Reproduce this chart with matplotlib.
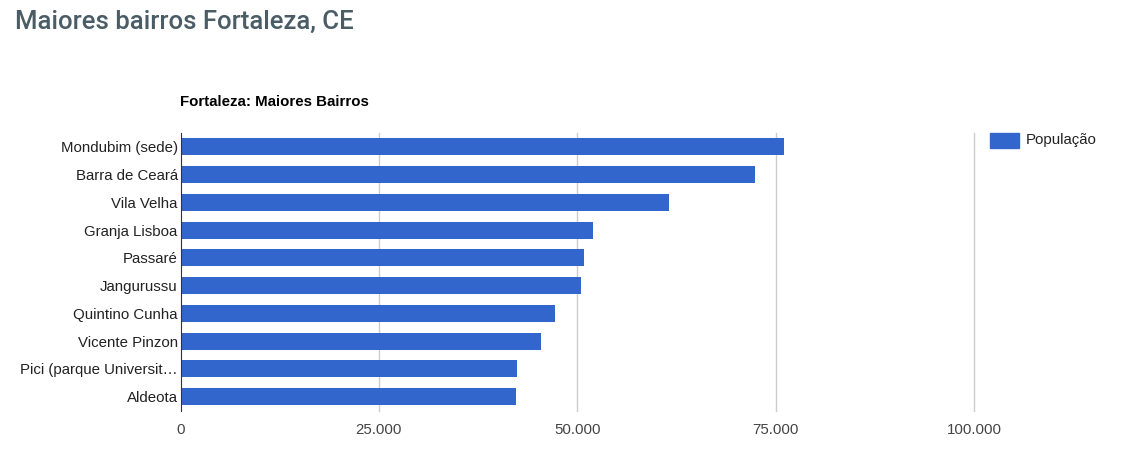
import matplotlib.pyplot as plt
from matplotlib.patches import Rectangle
from matplotlib.ticker import FuncFormatter

bairros = ['Mondubim (sede)', 'Barra de Ceará', 'Vila Velha', 'Granja Lisboa',
           'Passaré', 'Jangurussu', 'Quintino Cunha', 'Vicente Pinzon',
           'Pici (parque Universit…', 'Aldeota']
populacao = [76000, 72400, 61600, 52000, 50900, 50450, 47200, 45450, 42400, 42300]
xticks = [0, 25000, 50000, 75000, 100000]

W, H = 1136, 470
FS = 10.8
fig = plt.figure(figsize=(W / 100, H / 100), dpi=100)
ax = fig.add_axes([180.5 / W, 1 - 410.5 / H, (974 - 180.5) / W, (410.5 - 133) / H])

pos = list(range(len(bairros)))
ax.barh(pos, populacao, height=0.62, color='#3366cc', zorder=3)
ax.set_ylim(len(bairros) - 0.5, -0.5)
ax.set_xlim(0, 100000)
ax.set_yticks(pos)
ax.set_yticklabels(bairros, family='Liberation Sans', fontsize=FS, color='#222222')
ax.set_xticks(xticks)
ax.xaxis.set_major_formatter(FuncFormatter(lambda v, p: f'{int(v):,}'.replace(',', '.')))
for lbl in ax.get_xticklabels():
    lbl.set_family('Liberation Sans')
    lbl.set_fontsize(FS)
    lbl.set_color('#444444')
ax.tick_params(axis='both', length=0)
ax.tick_params(axis='y', pad=2)
ax.tick_params(axis='x', pad=9)

for v in xticks[1:]:
    ax.axvline(v, color='#cccccc', lw=1, zorder=1, clip_on=False)
for s in ['top', 'right', 'bottom']:
    ax.spines[s].set_visible(False)
ax.spines['left'].set_color('#333333')
ax.spines['left'].set_zorder(4)

fig.text(15 / W, 1 - 22 / H, 'Maiores bairros Fortaleza, CE', family='Roboto',
         fontsize=18.5, fontweight='medium', color='#4a5c66', va='center', ha='left')
fig.text(180 / W, 1 - 102 / H, 'Fortaleza: Maiores Bairros', family='Liberation Sans',
         fontsize=FS, fontweight='bold', color='#000000', va='center', ha='left')

# legend
fig.patches.append(Rectangle((990 / W, 1 - 147.5 / H), 29 / W, 14.5 / H,
                             transform=fig.transFigure, color='#3366cc'))
fig.text(1026 / W, 1 - 140 / H, 'População', family='Liberation Sans',
         fontsize=FS, color='#222222', va='center', ha='left')

fig.savefig('out.png', dpi=100)
